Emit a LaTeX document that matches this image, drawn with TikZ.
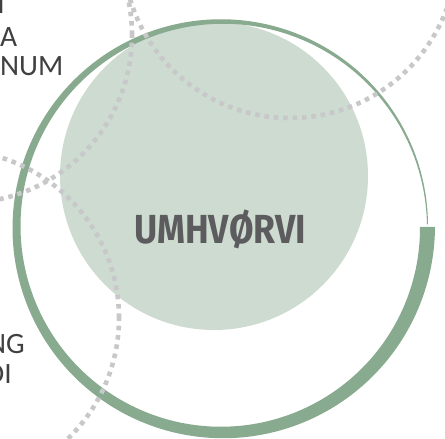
\documentclass[tikz,border=0pt]{standalone}
\usepackage{fontspec}
\setmainfont{Carlito}
\newfontfamily\titlefont{Fira Sans}[UprightFont=* Bold]
\definecolor{ringgreen}{RGB}{136,170,142}
\definecolor{softgreen}{RGB}{205,219,209}
\definecolor{dotgray}{RGB}{200,200,202}
\definecolor{titlegray}{RGB}{92,92,94}
\definecolor{labelgray}{RGB}{64,64,66}
\tikzset{
  dotring/.style={draw=dotgray, line width=4.6pt, dash pattern=on 4.6pt off 4.8pt, line cap=butt},
  sidelabel/.style={inner sep=0pt, anchor=base east, text=labelgray, font=\fontsize{29.5pt}{30pt}\selectfont},
}
\begin{document}
\begin{tikzpicture}[x=1pt,y=1pt]
\useasboundingbox (0,0) rectangle (445,439);
\begin{scope}
\clip (0,0) rectangle (445,439);
% central filled circle
\fill[softgreen] (214,263) circle[radius=154];
% tapered ring
\fill[ringgreen]
  plot[domain=0:359.3, samples=240] ({222+(205.5+(15-14*\x/360)/2)*cos(-\x)}, {212+(205.5+(15-14*\x/360)/2)*sin(-\x)})
  -- plot[domain=359.3:0, samples=240] ({222+(205.5-(15-14*\x/360)/2)*cos(-\x)}, {212+(205.5-(15-14*\x/360)/2)*sin(-\x)})
  -- cycle;
% dotted neighbour circles
\draw[dotring] (290,488) circle[radius=167];
\draw[dotring] (-36,404) circle[radius=168];
\draw[dotring] (-49,121) circle[radius=168];
% title
\node[inner sep=0pt, text=titlegray, xscale=0.876, font=\titlefont\fontsize{40.6pt}{42pt}\selectfont] (title) at (220,210) {UMHVØRVI};
% partial labels of neighbouring circles
\node[sidelabel] (lbla) at (5,425) {I};
\node[sidelabel] (lblb) at (17.5,392) {A};
\node[sidelabel] (lblc) at (63.5,363) {NUM};
\node[sidelabel] (lbld) at (25,85) {NG};
\node[sidelabel] (lble) at (12,55) {DI};
\end{scope}
\end{tikzpicture}
\end{document}
